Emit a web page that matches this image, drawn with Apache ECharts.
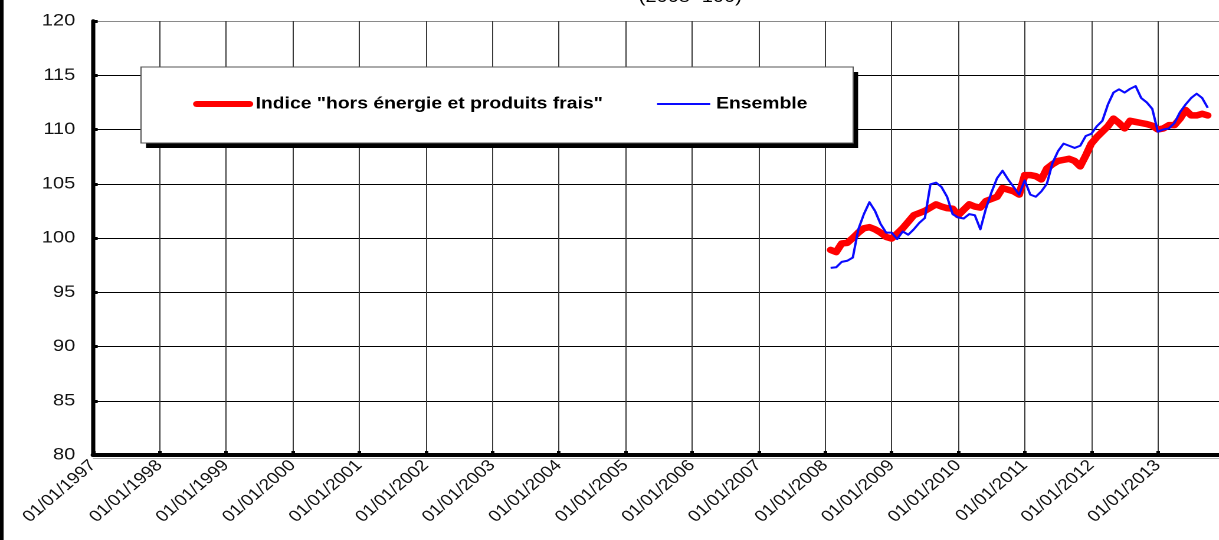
<!DOCTYPE html>
<html>
<head>
<meta charset="utf-8">
<script src="https://cdn.jsdelivr.net/npm/echarts@6/dist/echarts.min.js"></script>
<style>
html,body{margin:0;padding:0;background:#fff;overflow:hidden;width:1219px;height:540px;}
#chart{width:1060px;height:540px;transform:scaleX(1.18);transform-origin:0 0;}
</style>
</head>
<body>
<div id="chart"></div>
<script>
// ---- data ----
const months = ['2008-02','2008-03','2008-04','2008-05','2008-06','2008-07','2008-08','2008-09','2008-10','2008-11','2008-12',
'2009-01','2009-02','2009-03','2009-04','2009-05','2009-06','2009-07','2009-08','2009-09','2009-10','2009-11','2009-12',
'2010-01','2010-02','2010-03','2010-04','2010-05','2010-06','2010-07','2010-08','2010-09','2010-10','2010-11','2010-12',
'2011-01','2011-02','2011-03','2011-04','2011-05','2011-06','2011-07','2011-08','2011-09','2011-10','2011-11','2011-12',
'2012-01','2012-02','2012-03','2012-04','2012-05','2012-06','2012-07','2012-08','2012-09','2012-10','2012-11','2012-12',
'2013-01','2013-02','2013-03','2013-04','2013-05','2013-06','2013-07','2013-08','2013-09','2013-10'];
const horsEnergie = [98.9, 98.7, 99.5, 99.55, 100.0, 100.5, 100.9, 101.0, 100.8, 100.5,
100.1, 99.95, 100.4, 100.9, 101.5, 102.1, 102.3, 102.5, 102.8, 103.1,
102.9, 102.75, 102.7, 102.1, 102.6, 103.1, 102.9, 102.8, 103.4, 103.6,
103.8, 104.6, 104.45, 104.3, 104.0, 105.8, 105.8, 105.7, 105.4, 106.4,
106.8, 107.1, 107.2, 107.3, 107.1, 106.6, 107.6, 108.7, 109.3, 109.8,
110.3, 111.0, 110.6, 110.1, 110.8, 110.7, 110.6, 110.5, 110.35, 110.0,
110.1, 110.4, 110.4, 111.0, 111.8, 111.3, 111.3, 111.45, 111.3];
const ensemble = [97.25, 97.3, 97.8, 97.9, 98.2, 100.8, 102.2, 103.3, 102.5, 101.3,
100.5, 100.5, 99.9, 100.6, 100.3, 100.8, 101.4, 101.85, 104.95, 105.1,
104.7, 103.8, 102.2, 101.9, 101.8, 102.2, 102.1, 100.8, 102.7, 104.2,
105.5, 106.2, 105.4, 104.7, 104.0, 105.3, 104.0, 103.8, 104.3, 105.0,
106.9, 108.0, 108.7, 108.5, 108.3, 108.5, 109.4, 109.6, 110.3, 110.8,
112.3, 113.4, 113.7, 113.4, 113.75, 114.0, 112.9, 112.5, 111.9, 109.8,
110.0, 110.1, 110.6, 111.6, 112.3, 112.9, 113.3, 112.9, 112.0];
const tickYears = [1997,1998,1999,2000,2001,2002,2003,2004,2005,2006,2007,2008,2009,2010,2011,2012,2013];
const seriesNames = ['Indice "hors énergie et produits frais"', 'Ensemble'];
const titleText = '(2008=100)';

// ---- helpers ----
function toYear(m){ const p = m.split('-'); return +p[0] + (+p[1]-1)/12; }
function pairs(vals){ return months.map((m,i)=>[toYear(m), vals[i]]); }
const FONT = '"Liberation Sans", Arial, sans-serif';

const chart = echarts.init(document.getElementById('chart'), null, {renderer:'canvas', devicePixelRatio: 2});
const yColors = ['#000','#000','#000','#000','#000','#000','#000','#000','#8a8a8a'];
chart.setOption({
  animation:false,
  backgroundColor:'#fff',
  grid:{left:78.8, right:8.3, top:21, bottom:85, containLabel:false},
  xAxis:{
    type:'value', min:tickYears[0], max:2014.25, interval:1,
    axisLine:{show:true, onZero:false, lineStyle:{color:'#000', width:4}},
    axisTick:{show:true, inside:true, length:4, lineStyle:{color:'#000', width:3}},
    splitLine:{show:true, lineStyle:{color:'#3a3a3a', width:1}},
    axisLabel:{
      rotate:45, margin:8, color:'#111', fontSize:16, fontFamily:FONT,
      showMaxLabel:false,
      formatter:function(v){ const y = Math.round(v); return (Math.abs(v-y)<1e-6 && tickYears.indexOf(y)>=0) ? '01/01/'+y : ''; }
    }
  },
  yAxis:{
    type:'value', min:80, max:120, interval:5,
    axisLine:{show:true, lineStyle:{color:'#000', width:3.5}},
    axisTick:{show:true, inside:true, length:4, lineStyle:{color:'#000', width:3}},
    splitLine:{show:true, lineStyle:{color:yColors, width:1}},
    axisLabel:{margin:15, color:'#111', fontSize:17, fontFamily:FONT}
  },
  legend:{
    left:163.6, top:96, padding:0, itemWidth:45, itemHeight:14, itemGap:45,
    textStyle:{color:'#000', fontSize:16.4, fontWeight:'bold', fontFamily:FONT},
    itemStyle:{opacity:0},
    data:[
      {name:seriesNames[0], lineStyle:{width:6, color:'#ff0000', cap:'round'}, itemStyle:{opacity:0}},
      {name:seriesNames[1], lineStyle:{width:2, color:'#0a0aff'}, itemStyle:{opacity:0}}
    ],
    z:20
  },
  graphic:[
    {type:'rect', left:0, top:0, z:0, shape:{x:0,y:0,width:3,height:540}, style:{fill:'#000'}},
    {type:'text', z:10, x:585, y:6, style:{text:titleText, fill:'#000', font:'17px '+FONT, align:'center', verticalAlign:'bottom'}},
    {type:'line', z:5, shape:{x1:78.8, y1:458.5, x2:1060, y2:458.5}, style:{stroke:'#b0b0b0', lineWidth:1}},
    {type:'rect', z:8, shape:{x:123.7, y:72, width:603.5, height:76}, style:{fill:'#000'}},
    {type:'rect', z:9, shape:{x:119.5, y:67, width:603.5, height:76}, style:{fill:'#fff', stroke:'#555', lineWidth:1}}
  ],
  series:[
    {name:seriesNames[0], type:'line', data:pairs(horsEnergie), showSymbol:false, symbol:'none',
     lineStyle:{color:'#ff0000', width:6.5, cap:'round', join:'round'}, itemStyle:{color:'#ff0000'}, z:3},
    {name:seriesNames[1], type:'line', data:pairs(ensemble), showSymbol:false, symbol:'none',
     lineStyle:{color:'#0a0aff', width:2, join:'round'}, itemStyle:{color:'#0a0aff'}, z:4}
  ]
});
</script>
</body>
</html>
